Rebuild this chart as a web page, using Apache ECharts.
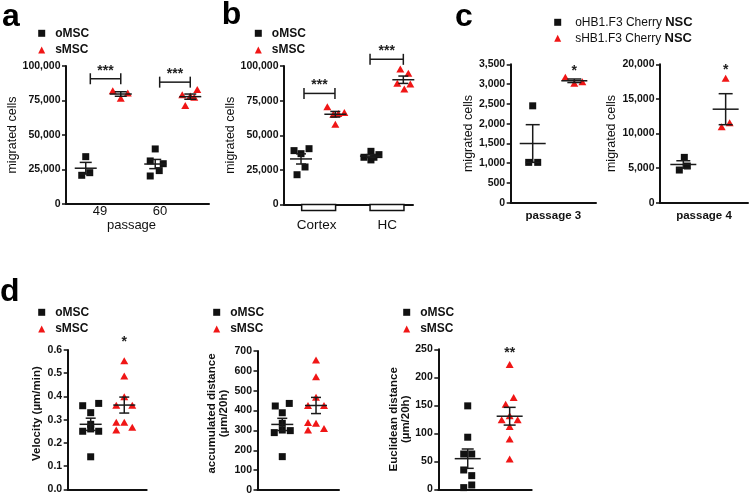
<!DOCTYPE html>
<html><head><meta charset="utf-8">
<script src="https://cdn.jsdelivr.net/npm/echarts@6/dist/echarts.min.js"></script>
<style>html,body{margin:0;padding:0;background:#fff}#c{width:750px;height:496px}</style>
</head><body><div id="c"></div>
<script>
// ================= DATA =================
const panelA_categories = ['49', '60'];
const panelA_oMSC_49 = [34300, 20800, 22700];
const panelA_sMSC_49 = [82100, 76600, 80400];
const panelA_oMSC_60 = [39900, 31200, 29200, 24200, 20300];
const panelA_sMSC_60 = [82900, 79200, 78300, 77300, 71300];
const panelA_sig = ['***', '***'];

const panelB_categories = ['Cortex', 'HC'];
const panelB_oMSC_Cortex = [38900, 36700, 40300, 27100, 21500];
const panelB_sMSC_Cortex = [70500, 65200, 65700, 66400, 58000];
const panelB_oMSC_HC = [38400, 34100, 32200, 36000, 34100];
const panelB_sMSC_HC = [97800, 94700, 87500, 83400, 87000];
const panelB_sig = ['***', '***'];

const panelC_names = ['oHB1.F3 Cherry NSC', 'sHB1.F3 Cherry NSC'];
const panelC_p3_o = [2450, 1020, 1020];
const panelC_p3_s = [3170, 3020, 3060];
const panelC_p4_o = [4720, 6550, 5300];
const panelC_p4_s = [17980, 10990, 11570];
const panelC_sig = ['*', '*'];

const panelD_velocity_o = [0.36, 0.37, 0.33, 0.28, 0.25, 0.26, 0.25, 0.14];
const panelD_velocity_s = [0.554, 0.488, 0.399, 0.362, 0.362, 0.289, 0.289, 0.255, 0.267];
const panelD_accum_o = [423, 436, 389, 336, 289, 302, 299, 168];
const panelD_accum_s = [655, 570, 467, 425, 425, 340, 336, 302, 310];
const panelD_euclid_o = [149, 93, 63, 63, 34.5, 24.4, 3, 7.7];
const panelD_euclid_s = [223, 164, 152, 131.5, 124, 124, 112, 90, 54];
const panelD_sig = ['*', '', '**'];

// significance marker heights (data units)
const panelA_bracketY = [90760, 88300];
const panelB_bracketY = [80200, 104800];
const panelC_starY = [3414, 19650];
const panelD_starY = [0.646, null, 248.7];

// ================= LAYOUT / STYLE =================
const FONT = '"Liberation Sans", Arial, Helvetica, sans-serif';
const BLACK = '#111111';
const RED = '#f01616';
const MSC = ['oMSC', 'sMSC'];

function comma(v){ return String(Math.round(v)).replace(/\B(?=(\d{3})+(?!\d))/g, ','); }
function mean(a){ return a.reduce((s, v) => s + v, 0) / a.length; }
function sem(a){ const m = mean(a); const v = a.reduce((s, x) => s + (x - m) * (x - m), 0) / (a.length - 1); return Math.sqrt(v / a.length); }

const panels = [
  { grid:{left:66, top:66, width:143, height:138}, yMax:100000, yInt:25000, fmt:comma,
    yName:'migrated cells', nameGap:45, names:MSC,
    xLabels:panelA_categories, xLabelPos:[0.238, 0.657], xLabelMargin:1, xLabelSize:13,
    xName:'passage', xNameGap:5, xNamePad:[0, 12, 0, 0], xNameStyle:{fontSize:13},
    groups:[
      {x:0.138, vals:panelA_oMSC_49, k:0, jit:[0,-4,4]},
      {x:0.383, vals:panelA_sMSC_49, k:1, jit:[-8,0,7]},
      {x:0.624, vals:panelA_oMSC_60, k:0, jit:[0,-5,8,4,-5]},
      {x:0.869, vals:panelA_sMSC_60, k:1, jit:[7,-8,0,4,-5]}],
    annots:[
      {x1:0.170, x2:0.383, y:panelA_bracketY[0], text:panelA_sig[0], dy:-8},
      {x1:0.655, x2:0.869, y:panelA_bracketY[1], text:panelA_sig[1], dy:-8}],
    meanHalf:11, capHalf:6, legend:{x:38.2, y:27.3} },
  { grid:{left:284, top:66, width:129, height:138.5}, yMax:100000, yInt:25000, fmt:comma,
    yName:'migrated cells', nameGap:42, names:MSC,
    xLabels:panelB_categories, xLabelPos:[0.253, 0.801], xLabelMargin:13.5, xLabelSize:13.5,
    boxes:[[0.137, 0.400], [0.667, 0.930]],
    groups:[
      {x:0.132, vals:panelB_oMSC_Cortex, k:0, jit:[-7,0,8,4,-4]},
      {x:0.398, vals:panelB_sMSC_Cortex, k:1, jit:[-8,-2,3,9,0]},
      {x:0.674, vals:panelB_oMSC_HC, k:0, jit:[0,-7,0,8,3]},
      {x:0.925, vals:panelB_sMSC_HC, k:1, jit:[-3,5,-6,1,7]}],
    annots:[
      {x1:0.155, x2:0.395, y:panelB_bracketY[0], text:panelB_sig[0], dy:-8},
      {x1:0.667, x2:0.925, y:panelB_bracketY[1], text:panelB_sig[1], dy:-8}],
    meanHalf:11, capHalf:5, legend:{x:254.8, y:27.3} },
  { grid:{left:510.7, top:64.3, width:85.3, height:138.4}, yMax:3500, yInt:500, fmt:comma,
    yName:'migrated cells', nameGap:33, names:panelC_names,
    xName:'passage 3', xNameGap:7, xNameStyle:{fontSize:11.5, fontWeight:'bold'},
    groups:[
      {x:0.258, vals:panelC_p3_o, k:0, jit:[0,-4,5]},
      {x:0.746, vals:panelC_p3_s, k:1, jit:[-9,0,8]}],
    annots:[{x1:0.746, x2:0.746, y:panelC_starY[0], text:panelC_sig[0], dy:3}],
    meanHalf:13, capHalf:7, legend:{x:554.2, y:15.8, rich:true} },
  { grid:{left:660, top:64.3, width:88, height:138.4}, yMax:20000, yInt:5000, fmt:comma,
    yName:'migrated cells', nameGap:35.5, names:panelC_names,
    xName:'passage 4', xNameGap:7, xNameStyle:{fontSize:11.5, fontWeight:'bold'},
    groups:[
      {x:0.265, vals:panelC_p4_o, k:0, jit:[-4,1,4]},
      {x:0.746, vals:panelC_p4_s, k:1, jit:[0,-4,4]}],
    annots:[{x1:0.746, x2:0.746, y:panelC_starY[1], text:panelC_sig[1], dy:3}],
    meanHalf:13, capHalf:7 },
  { grid:{left:67.7, top:350, width:79, height:139.3}, yMax:0.6, yInt:0.1, fmt:v => v.toFixed(1),
    yName:'Velocity (µm/min)', nameGap:24.5, yNameBold:true, yNamePad:[0, 0, 0, 12], names:MSC,
    groups:[
      {x:0.291, vals:panelD_velocity_o, k:0, jit:[-8,8,0,0,-8,0,8,0]},
      {x:0.716, vals:panelD_velocity_s, k:1, jit:[0,0,0,-8,8,-8,0,-8,8]}],
    annots:[{x1:0.716, x2:0.716, y:panelD_starY[0], text:panelD_sig[0], dy:3}],
    meanHalf:11, capHalf:5, legend:{x:38.2, y:306.3} },
  { grid:{left:257.5, top:351, width:81.5, height:139}, yMax:700, yInt:100, fmt:comma,
    yName:'accumulated distance\n(µm/20h)', nameGap:27.5, yNameBold:true, yNamePad:[0, 0, 0, 14], names:MSC,
    groups:[
      {x:0.304, vals:panelD_accum_o, k:0, jit:[-7,7,0,0,-8,0,8,0]},
      {x:0.718, vals:panelD_accum_s, k:1, jit:[0,0,0,-8,8,-8,0,-8,8]}],
    annots:[],
    meanHalf:11, capHalf:5, legend:{x:213.2, y:306.3} },
  { grid:{left:438.3, top:349.3, width:93.4, height:140}, yMax:250, yInt:50, fmt:comma,
    yName:'Euclidean distance\n(µm/20h)', nameGap:19, yNameBold:true, names:MSC,
    groups:[
      {x:0.315, vals:panelD_euclid_o, k:0, jit:[0,0,-4,4,-4,4,-4,4]},
      {x:0.764, vals:panelD_euclid_s, k:1, jit:[0,4,-4,0,-8,8,0,0,0]}],
    annots:[{x1:0.764, x2:0.764, y:panelD_starY[2], text:panelD_sig[2], dy:3}],
    meanHalf:13, capHalf:6, legend:{x:403.2, y:306.3} }
];

const grids = [], xAxes = [], yAxes = [], series = [], legends = [];

panels.forEach((p, i) => {
  grids.push(Object.assign({containLabel:false}, p.grid));
  const xa = {
    type:'value', gridIndex:i, min:0, max:1,
    axisLine:{show:true, onZero:false, lineStyle:{color:BLACK, width:2}},
    axisTick:{show:false}, splitLine:{show:false},
    axisLabel:{show:false}
  };
  if (p.xLabels) {
    xa.axisLabel = {
      show:true, customValues:p.xLabelPos, margin:p.xLabelMargin,
      color:BLACK, fontFamily:FONT, fontSize:p.xLabelSize,
      formatter:(v) => {
        let best = 0;
        p.xLabelPos.forEach((q, j) => { if (Math.abs(q - v) < Math.abs(p.xLabelPos[best] - v)) best = j; });
        return p.xLabels[best];
      }
    };
  }
  if (p.xName) {
    xa.name = p.xName; xa.nameLocation = 'middle'; xa.nameGap = p.xNameGap;
    xa.nameTextStyle = Object.assign({color:BLACK, fontFamily:FONT, padding:p.xNamePad || 0}, p.xNameStyle);
  }
  xAxes.push(xa);
  yAxes.push({
    type:'value', gridIndex:i, min:0, max:p.yMax, interval:p.yInt,
    axisLine:{show:true, lineStyle:{color:BLACK, width:2}},
    axisTick:{show:true, inside:false, length:4, lineStyle:{color:BLACK, width:1.5}},
    splitLine:{show:false},
    axisLabel:{color:BLACK, fontFamily:FONT, fontSize:10.5, fontWeight:'bold', margin:5.5, formatter:p.fmt},
    name:p.yName, nameLocation:'middle', nameRotate:90, nameGap:p.nameGap,
    nameTextStyle:{color:BLACK, fontFamily:FONT, fontSize:p.yNameBold ? 11.5 : 12.5,
      fontWeight:p.yNameBold ? 'bold' : 'normal', lineHeight:12, padding:p.yNamePad || 0}
  });

  // points
  [0, 1].forEach(k => {
    const data = [];
    p.groups.filter(g => g.k === k).forEach(g => {
      g.vals.forEach((v, j) => data.push({value:[g.x, v], symbolOffset:[g.jit[j] || 0, 0]}));
    });
    series.push({
      type:'scatter', name:p.names[k], xAxisIndex:i, yAxisIndex:i, clip:false,
      symbol:k === 0 ? 'rect' : 'triangle', symbolSize:k === 0 ? 7 : [8, 7],
      itemStyle:{color:k === 0 ? BLACK : RED, opacity:1}, data:data, z:2,
      emphasis:{disabled:true}, silent:true
    });
  });

  // mean +/- SEM
  const stats = p.groups.map(g => [g.x, mean(g.vals), sem(g.vals)]);
  series.push({
    type:'custom', xAxisIndex:i, yAxisIndex:i, clip:false, z:3, silent:true,
    data:stats,
    renderItem:(params, api) => {
      const x = api.value(0), m = api.value(1), s = api.value(2);
      const pm = api.coord([x, m]), pt = api.coord([x, m + s]), pb = api.coord([x, m - s]);
      const st = {stroke:'#1a1a1a', lineWidth:1.5};
      return {type:'group', children:[
        {type:'line', shape:{x1:pm[0]-p.meanHalf, y1:pm[1], x2:pm[0]+p.meanHalf, y2:pm[1]}, style:st},
        {type:'line', shape:{x1:pt[0], y1:pt[1], x2:pb[0], y2:pb[1]}, style:st},
        {type:'line', shape:{x1:pt[0]-p.capHalf, y1:pt[1], x2:pt[0]+p.capHalf, y2:pt[1]}, style:st},
        {type:'line', shape:{x1:pb[0]-p.capHalf, y1:pb[1], x2:pb[0]+p.capHalf, y2:pb[1]}, style:st}
      ]};
    }
  });

  // significance brackets / stars
  if (p.annots.length) {
    series.push({
      type:'custom', xAxisIndex:i, yAxisIndex:i, clip:false, z:4, silent:true,
      data:p.annots.map(a => [a.x1, a.y, a.x2]),
      renderItem:(params, api) => {
        const a = p.annots[params.dataIndex];
        const p1 = api.coord([a.x1, a.y]), p2 = api.coord([a.x2, a.y]);
        const st = {stroke:'#1a1a1a', lineWidth:1.5};
        const ch = [];
        if (a.x2 !== a.x1) {
          ch.push({type:'line', shape:{x1:p1[0], y1:p1[1], x2:p2[0], y2:p2[1]}, style:st});
          ch.push({type:'line', shape:{x1:p1[0], y1:p1[1]-5.5, x2:p1[0], y2:p1[1]+5.5}, style:st});
          ch.push({type:'line', shape:{x1:p2[0], y1:p2[1]-5.5, x2:p2[0], y2:p2[1]+5.5}, style:st});
        }
        ch.push({type:'text', style:{text:a.text, x:(p1[0]+p2[0])/2, y:p1[1]+a.dy,
          align:'center', verticalAlign:'middle', fill:'#222', font:'bold 14px ' + FONT}});
        return {type:'group', children:ch};
      }
    });
  }

  // category boxes under axis (panel b)
  if (p.boxes) {
    series.push({
      type:'custom', xAxisIndex:i, yAxisIndex:i, clip:false, z:4, silent:true,
      data:p.boxes.map(b => [b[0], 0, b[1]]),
      renderItem:(params, api) => {
        const q1 = api.coord([api.value(0), 0]), q2 = api.coord([api.value(2), 0]);
        return {type:'rect', shape:{x:q1[0], y:q1[1], width:q2[0]-q1[0], height:6},
          style:{stroke:BLACK, lineWidth:1.5, fill:'#fff'}};
      }
    });
  }

  if (p.legend) {
    const lg = {
      orient:'vertical', left:p.legend.x, top:p.legend.y, padding:0,
      itemWidth:7, itemHeight:7, itemGap:p.legend.rich ? 3 : 4.7, selectedMode:false,
      itemStyle:{opacity:1},
      textStyle:{color:BLACK, fontFamily:FONT, fontSize:12, fontWeight:'bold', padding:[0, 0, 0, p.legend.rich ? 9 : 5]},
      data:[{name:p.names[0], icon:'rect'}, {name:p.names[1], icon:'triangle'}]
    };
    if (p.legend.rich) {
      lg.formatter = (name) => '{n|' + name.replace(/ NSC$/, '') + ' }{b|NSC}';
      lg.textStyle.fontWeight = 'normal';
      lg.textStyle.rich = {
        n:{fontFamily:FONT, fontSize:12, color:BLACK},
        b:{fontFamily:FONT, fontSize:13, fontWeight:'bold', color:BLACK}
      };
    }
    legends.push(lg);
  }
});

const letters = [['a', 2, 17.2], ['b', 221.7, 15.6], ['c', 455, 16.9], ['d', 0, 292.2]];

const chart = echarts.init(document.getElementById('c'), null, {renderer:'canvas'});
chart.setOption({
  backgroundColor:'#ffffff',
  animation:false,
  grid:grids, xAxis:xAxes, yAxis:yAxes, legend:legends, series:series,
  graphic:letters.map(l => ({type:'text', x:l[1], y:l[2], silent:true,
    style:{text:l[0], fill:'#000', font:'bold 32px ' + FONT, verticalAlign:'middle', align:'left'}}))
});
</script></body></html>
